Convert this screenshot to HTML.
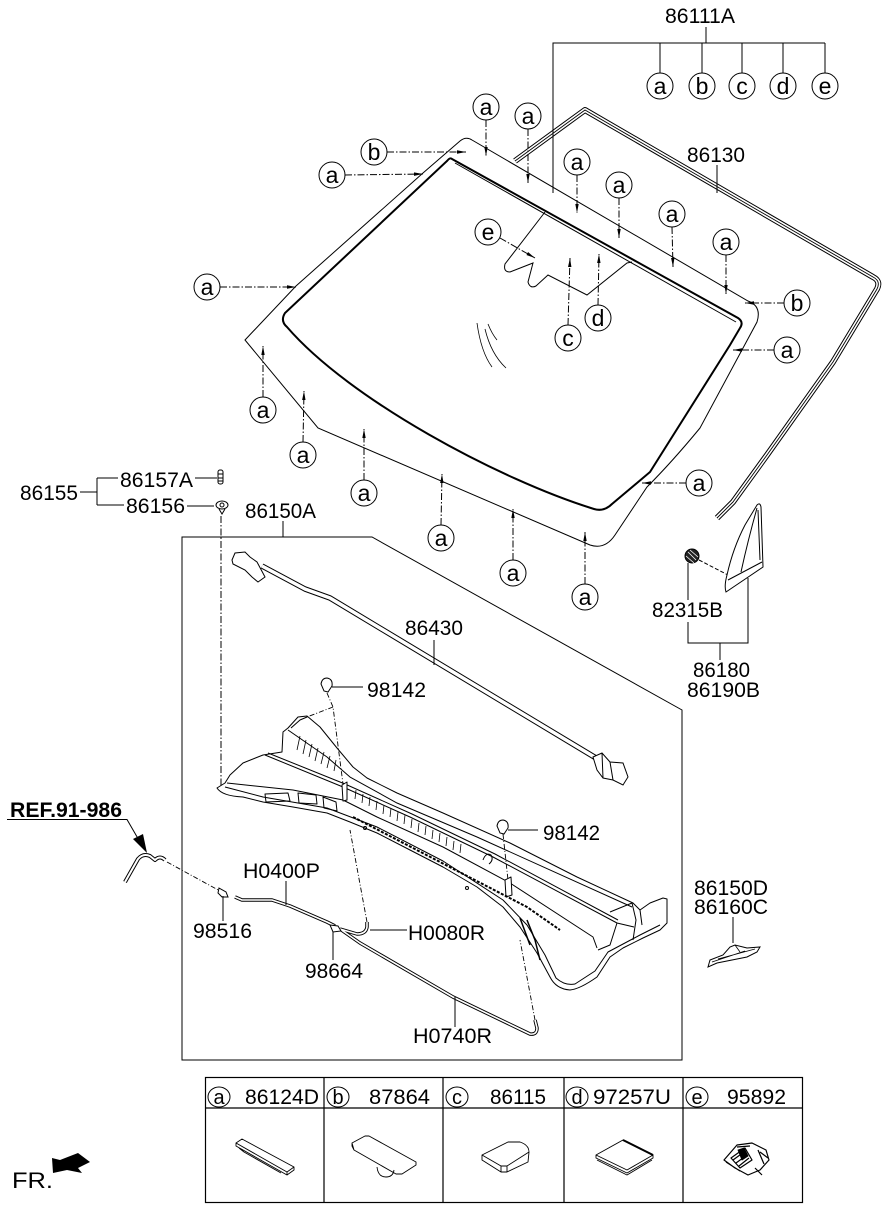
<!DOCTYPE html>
<html><head><meta charset="utf-8">
<style>
html,body{margin:0;padding:0;background:#fff;}
svg{display:block;}
text{font-family:"Liberation Sans",Arial,sans-serif;fill:#000;}
</style></head><body>
<svg width="886" height="1211" viewBox="0 0 886 1211" xmlns="http://www.w3.org/2000/svg">
<defs>
<marker id="ah" markerWidth="10" markerHeight="6" refX="9" refY="3" orient="auto" markerUnits="userSpaceOnUse">
<path d="M0,1.3 L9,3 L0,4.7 Z" fill="#000"/>
</marker>
</defs>
<rect width="886" height="1211" fill="#fff"/>

<!-- ===== 86111A group ===== -->
<g stroke="#000" stroke-width="1" fill="none">
<path d="M553,193 L553,43 L825,43 M706,27 L706,43 M660,43 L660,73 M702,43 L702,73 M742,43 L742,73 M783,43 L783,73 M825,43 L825,73"/>
</g>
<text x="665" y="23" font-size="21" textLength="70" lengthAdjust="spacingAndGlyphs">86111A</text>
<g fill="#fff" stroke="#000" stroke-width="1">
<circle cx="660" cy="86" r="13"/><circle cx="702" cy="86" r="13"/><circle cx="742" cy="86" r="13"/><circle cx="783" cy="86" r="13"/><circle cx="825" cy="86" r="13"/>
</g>
<g font-size="23" text-anchor="middle">
<text x="660" y="94">a</text><text x="702" y="94">b</text><text x="742" y="94">c</text><text x="783" y="94">d</text><text x="825" y="94">e</text>
</g>

<!-- ===== Seal 86130 ===== -->
<g fill="none" stroke-linejoin="round">
<path d="M717,518 L733,502 L767,455 L833,362 L877,289 Q881,281 873,277 L585,110 L515,161" stroke="#000" stroke-width="6"/>
<path d="M717,518 L733,502 L767,455 L833,362 L877,289 Q881,281 873,277 L585,110 L515,161" stroke="#fff" stroke-width="4"/>
<path d="M717,518 L733,502 L767,455 L833,362 L877,289 Q881,281 873,277 L585,110 L515,161" stroke="#000" stroke-width="0.9"/>
</g>
<path d="M553,193 L553,43" stroke="#000" stroke-width="1"/>
<text x="687" y="162" font-size="21" textLength="58" lengthAdjust="spacingAndGlyphs">86130</text>
<path d="M717,165 L717,193" stroke="#000" stroke-width="1"/>

<!-- ===== Windshield glass ===== -->
<path d="M245,340 L296,286 L423,173 L460,141 Q466,136 472,140 L748,301 Q762,306 757,322 L700,428 Q672,462 647,487 L615,535 Q605,550 590,545 L318,428 L245,340 Z" fill="none" stroke="#000" stroke-width="1"/>
<path d="M452,159 L738,318 Q744,322 740,328 L730,345 L650,472 L612,504 Q604,512 594,509 C500,480 350,400 287,327 Q280,321 285,313 L447,161 Q450,157 452,159 Z" fill="none" stroke="#000" stroke-width="2"/>
<path d="M455,163 L736,322" fill="none" stroke="#000" stroke-width="1"/>
<!-- sensor cutout -->
<path d="M545,212 L505,264 Q503,272 510,272 L533,263 L528,282 Q530,289 536,286 L548,275 L587,295 L627,263 L632,262" fill="none" stroke="#000" stroke-width="1"/>
<!-- wiper marks -->
<path d="M477,323 Q481,352 492,367 M485,329 Q491,354 506,368 M488,324 Q492,334 497,340" fill="none" stroke="#000" stroke-width="0.8"/>

<!-- ===== callouts on glass ===== -->
<g stroke="#000" stroke-width="1" fill="none" stroke-dasharray="7,2,1.5,2" marker-end="url(#ah)">
<line x1="486" y1="120" x2="486" y2="156"/>
<line x1="528" y1="129" x2="528" y2="183"/>
<line x1="387" y1="152" x2="466" y2="152"/>
<line x1="345" y1="175" x2="423" y2="174"/>
<line x1="577" y1="175" x2="577" y2="213"/>
<line x1="619" y1="198" x2="619" y2="238"/>
<line x1="672" y1="227" x2="673" y2="267"/>
<line x1="726" y1="255" x2="726" y2="294"/>
<line x1="784" y1="303" x2="745" y2="303"/>
<line x1="220" y1="287" x2="296" y2="287"/>
<line x1="500" y1="238" x2="535" y2="258"/>
<line x1="568" y1="325" x2="570" y2="258"/>
<line x1="598" y1="305" x2="599" y2="254"/>
<line x1="774" y1="350" x2="733" y2="350"/>
<line x1="263" y1="397" x2="263" y2="346"/>
<line x1="303" y1="442" x2="304" y2="391"/>
<line x1="364" y1="480" x2="364" y2="429"/>
<line x1="441" y1="525" x2="442" y2="474"/>
<line x1="513" y1="560" x2="513" y2="509"/>
<line x1="585" y1="584" x2="585" y2="532"/>
<line x1="686" y1="483" x2="642" y2="483"/>
</g>
<g fill="#fff" stroke="#000" stroke-width="1">
<circle cx="486" cy="107" r="13"/><circle cx="528" cy="116" r="13"/><circle cx="374" cy="152" r="13"/><circle cx="332" cy="175" r="13"/>
<circle cx="577" cy="162" r="13"/><circle cx="619" cy="185" r="13"/><circle cx="672" cy="214" r="13"/><circle cx="726" cy="242" r="13"/>
<circle cx="797" cy="303" r="13"/><circle cx="207" cy="287" r="13"/><circle cx="488" cy="232" r="13"/><circle cx="568" cy="338" r="13"/>
<circle cx="598" cy="318" r="13"/><circle cx="787" cy="350" r="13"/><circle cx="263" cy="410" r="13"/><circle cx="303" cy="455" r="13"/>
<circle cx="364" cy="493" r="13"/><circle cx="441" cy="538" r="13"/><circle cx="513" cy="573" r="13"/><circle cx="585" cy="597" r="13"/>
<circle cx="699" cy="483" r="13"/>
</g>
<g font-size="23" text-anchor="middle">
<text x="486" y="115">a</text><text x="528" y="124">a</text><text x="374" y="160">b</text><text x="332" y="183">a</text>
<text x="577" y="170">a</text><text x="619" y="193">a</text><text x="672" y="222">a</text><text x="726" y="250">a</text>
<text x="797" y="311">b</text><text x="207" y="295">a</text><text x="488" y="240">e</text><text x="568" y="346">c</text>
<text x="598" y="326">d</text><text x="787" y="358">a</text><text x="263" y="418">a</text><text x="303" y="463">a</text>
<text x="364" y="501">a</text><text x="441" y="546">a</text><text x="513" y="581">a</text><text x="585" y="605">a</text>
<text x="699" y="491">a</text>
</g>

<!-- ===== 86155 group ===== -->
<text x="20" y="500" font-size="21" textLength="58" lengthAdjust="spacingAndGlyphs">86155</text>
<text x="120" y="487" font-size="21" textLength="73" lengthAdjust="spacingAndGlyphs">86157A</text>
<text x="126" y="513" font-size="21" textLength="59" lengthAdjust="spacingAndGlyphs">86156</text>
<g stroke="#000" stroke-width="1" fill="none">
<path d="M80,492 L97,492 M97,478 L97,505 M97,478 L118,478 M97,505 L124,505 M195,478 L217,478 M187,506 L214,506"/>
<rect x="218" y="470" width="5" height="14" rx="2"/>
<path d="M218,474 L223,474 M218,478 L223,478 M218,481 L223,481"/>
<ellipse cx="222" cy="505" rx="6" ry="4" fill="#fff"/>
<circle cx="222" cy="505" r="2"/>
<path d="M219,509 L222,514 L225,509"/>
</g>
<path d="M221,516 L221,790" stroke="#000" stroke-width="1" stroke-dasharray="7,2,1.5,2"/>
<text x="245" y="518" font-size="21" textLength="71" lengthAdjust="spacingAndGlyphs">86150A</text>
<path d="M283,521 L283,537 M182,537 L372,537 L682,710 L682,1060 L182,1060 Z" stroke="#000" stroke-width="1" fill="none"/>

<!-- ===== 86180 group ===== -->
<g stroke="#000" stroke-width="1" fill="none">
<circle cx="692" cy="556" r="7" fill="#222"/>
<path d="M688,552 L696,560 M686,556 L694,563 M690,550 L698,557" stroke="#fff" stroke-width="0.8"/>
<path d="M699,560 L728,575" stroke-dasharray="4,2"/>
<path d="M757,505 Q760,502 761,507 L763,567 L726,592 Q724,586 727,575 Q733,548 745,525 Z" fill="#fff"/>
<path d="M757,508 Q748,540 741,572 M728,580 L762,562 M758,510 L760,560"/>
<path d="M688,563 L688,600 M688,622 L688,643 L748,643 L748,578 M720,643 L720,660"/>
</g>
<text x="652" y="617" font-size="21" textLength="71" lengthAdjust="spacingAndGlyphs">82315B</text>
<text x="693" y="677" font-size="21" textLength="57" lengthAdjust="spacingAndGlyphs">86180</text>
<text x="687" y="697" font-size="21" textLength="73" lengthAdjust="spacingAndGlyphs">86190B</text>

<!-- ===== Molding 86430 ===== -->
<g fill="none" stroke-linejoin="round">
<path d="M262,566 L305,589 L330,598 L596,758" stroke="#000" stroke-width="5.5"/>
<path d="M262,566 L305,589 L330,598 L596,758" stroke="#fff" stroke-width="3.5"/>
</g>
<g stroke="#000" stroke-width="1" fill="#fff">
<path d="M232,560 L235,553 L245,552 L250,557 L257,562 L265,577 L258,582 L252,577 L245,570 L233,564 Z"/>
<path d="M593,757 L602,753 L610,762 L623,763 L628,777 L623,785 L613,780 L603,778 L597,770 Z"/>
<path d="M602,753 L603,778 M610,762 L613,780" fill="none"/>
</g>
<text x="405" y="635" font-size="21" textLength="58" lengthAdjust="spacingAndGlyphs">86430</text>
<path d="M434,640 L434,665" stroke="#000" stroke-width="1"/>

<!-- ===== 98142 ===== -->
<g stroke="#000" stroke-width="1" fill="#fff">
<path d="M321,684 Q322,678 327,678 Q333,679 332,686 L328,692 L324,691 Z"/>
<path d="M497,826 Q498,820 503,820 Q509,821 508,828 L504,834 L500,833 Z"/>
</g>
<path d="M332,687 L363,687 M508,830 L538,830" stroke="#000" stroke-width="1"/>
<text x="367" y="697" font-size="21" textLength="59" lengthAdjust="spacingAndGlyphs">98142</text>
<text x="543" y="840" font-size="21" textLength="57" lengthAdjust="spacingAndGlyphs">98142</text>

<!-- ===== Cowl panel ===== -->
<g stroke="#000" stroke-width="1" fill="none" stroke-linejoin="round">
<path fill="#fff" d="M217,788 Q222,796 243,797 L263,802 L293,807 L327,813 L350,822 L377,833 L410,850 L443,867 L477,887 L503,907 L520,927 L537,953 L550,977 Q556,989 570,990 Q580,989 597,977 L610,957 L623,948 L643,938 L660,930 L667,923 L667,899 L663,898 L650,903 L640,910 L633,903 L577,877 L510,843 L443,813 L397,793 L367,778 L353,767 L337,748 L320,727 L307,716 L298,717 L288,728 L283,732 L282,752 L263,755 L243,763 L230,775 L225,783 Z"/>
<path d="M288,730 L327,757 L350,777 L397,803 L477,837 L632,907"/>
<path d="M291,728 L300,720 L307,717"/>
<path d="M265,755 L343,787 L410,817 L493,857 L617,923 L634,927"/>
<path d="M268,753 L345,784 L412,814 L495,854 L618,920"/>
<path d="M227,783 L293,790 L343,800 L377,817 L443,847 L510,883 L593,937 L597,948"/>
<path d="M225,787 L263,797 L327,808 L377,827 L443,861 L503,900 L527,925 L545,955 L556,978 Q565,986 575,984 L595,971 L608,952 L640,935 L660,925"/>
<path d="M632,903 L636,920 L633,940 M610,912 L632,903 M617,923 L610,945 L598,950 M640,910 L642,925"/>
<path d="M265,794 L288,793 L290,801 L266,802 Z M298,793 L316,795 L317,804 L299,803 Z M323,797 L336,802 L337,811 L324,808 Z"/>
<path d="M342,785 L347,782 L347,800 L343,801 Z M505,880 L511,877 L512,895 L506,897 Z" fill="#fff"/>
<path d="M300,736 l-3,14 M306,740 l-3,14 M312,744 l-3,13 M318,748 l-3,13 M324,752 l-3,12 M330,756 l-3,12 M336,760 l-2,11" stroke-width="0.8"/>
<path d="M356,790 l-1,9 M363,794 l-1,9 M370,797 l-1,9 M377,801 l-1,9 M384,805 l-1,9 M391,808 l-1,9 M398,812 l-1,9 M405,815 l-1,9 M412,819 l-1,9 M419,823 l-1,9 M426,826 l-1,9 M433,830 l-1,9 M440,833 l-1,9 M447,837 l-1,9 M454,841 l-1,9 M461,844 l-1,9" stroke-width="0.8"/>
<path d="M353,817 L527,907 L560,930" stroke-width="2" stroke-dasharray="3,1.5"/>
<circle cx="365" cy="828" r="1.5"/><circle cx="467" cy="888" r="1.5"/>
<path d="M483,860 Q486,852 491,855 Q494,860 489,864"/>
<path d="M527,920 L535,940 L540,960 M520,918 L530,945" stroke-width="1.5"/>
</g>
<!-- 98142 dashed -->
<g stroke="#000" stroke-width="0.9" fill="none" stroke-dasharray="5,2,1,2">
<path d="M327,693 L333,707 L343,784"/>
<path d="M333,707 L307,717"/>
<path d="M503,834 L508,880"/>
</g>

<!-- ===== REF ===== -->
<text x="10" y="817" font-size="21" font-weight="bold" textLength="112" lengthAdjust="spacingAndGlyphs">REF.91-986</text>
<path d="M7,819.5 L127,819.5 L140,842" stroke="#000" stroke-width="1" fill="none"/>
<path d="M147,853 L133,839 L143,834 Z" fill="#000"/>
<g fill="none" stroke-linejoin="round">
<path d="M125,882 L138,859 Q143,853 150,856 L155,860 Q160,855 165,860" stroke="#000" stroke-width="4"/>
<path d="M125,882 L138,859 Q143,853 150,856 L155,860 Q160,855 165,860" stroke="#fff" stroke-width="2"/>
</g>
<path d="M167,862 L220,891" stroke="#000" stroke-width="0.9" stroke-dasharray="5,2,1,2"/>

<!-- ===== hoses ===== -->
<g fill="none" stroke-linejoin="round">
<path d="M235,897 L242,900 L272,900 L290,906 L327,922 L335,926 M340,929 L357,934 Q366,934 367,927 L367,922 M340,929 L360,943 L453,997 L530,1034 Q537,1035 537,1028 L535,1020" stroke="#000" stroke-width="3.5"/>
<path d="M235,897 L242,900 L272,900 L290,906 L327,922 L335,926 M340,929 L357,934 Q366,934 367,927 L367,922 M340,929 L360,943 L453,997 L530,1034 Q537,1035 537,1028 L535,1020" stroke="#fff" stroke-width="1.6"/>
</g>
<g stroke="#000" stroke-width="1" fill="#fff">
<path d="M219,888 L226,892 L228,897 L222,897 L218,893 Z"/>
<path d="M330,925 L338,926 L341,931 L333,932 Z"/>
</g>
<g stroke="#000" stroke-width="0.9" fill="none" stroke-dasharray="5,2,1,2">
<path d="M367,922 L350,830"/>
<path d="M535,1020 L520,940"/>
</g>
<g stroke="#000" stroke-width="1">
<path d="M286,881 L286,905 M370,930 L407,930 M333,932 L333,960 M223,896 L223,921 M455,997 L455,1027"/>
</g>
<text x="243" y="878" font-size="21" textLength="77" lengthAdjust="spacingAndGlyphs">H0400P</text>
<text x="408" y="940" font-size="21" textLength="77" lengthAdjust="spacingAndGlyphs">H0080R</text>
<text x="193" y="938" font-size="21" textLength="59" lengthAdjust="spacingAndGlyphs">98516</text>
<text x="305" y="978" font-size="21" textLength="58" lengthAdjust="spacingAndGlyphs">98664</text>
<text x="413" y="1043" font-size="21" textLength="79" lengthAdjust="spacingAndGlyphs">H0740R</text>

<!-- ===== 86150D / 86160C ===== -->
<text x="694" y="895" font-size="21" textLength="74" lengthAdjust="spacingAndGlyphs">86150D</text>
<text x="694" y="914" font-size="21" textLength="74" lengthAdjust="spacingAndGlyphs">86160C</text>
<g stroke="#000" stroke-width="1" fill="none">
<path d="M733,917 L733,943"/>
<path d="M708,967 L710,960 L723,955 L730,947 L735,945 L747,948 L760,947 L757,952 L747,957 L717,963 Z" fill="#fff"/>
<path d="M712,962 L745,951 M718,959 L755,949 M735,945 L740,952" stroke-width="0.8"/>
</g>

<!-- ===== Legend table ===== -->
<g stroke="#000" stroke-width="1.2" fill="none">
<rect x="205.5" y="1077.5" width="597" height="125"/>
<path d="M205,1108 L802,1108 M324,1077 L324,1202 M443,1077 L443,1202 M564,1077 L564,1202 M683,1077 L683,1202"/>
</g>
<g fill="#fff" stroke="#000" stroke-width="1">
<ellipse cx="219" cy="1097" rx="11" ry="10"/>
<ellipse cx="338" cy="1097" rx="11" ry="10"/>
<ellipse cx="457" cy="1097" rx="11" ry="10"/>
<ellipse cx="577" cy="1097" rx="11" ry="10"/>
<ellipse cx="697" cy="1097" rx="11" ry="10"/>
</g>
<g font-size="20" text-anchor="middle">
<text x="219" y="1104">a</text><text x="338" y="1104">b</text><text x="457" y="1104">c</text><text x="577" y="1104">d</text><text x="697" y="1104">e</text>
</g>
<text x="245" y="1104" font-size="21" textLength="74" lengthAdjust="spacingAndGlyphs">86124D</text>
<text x="369" y="1104" font-size="21" textLength="61" lengthAdjust="spacingAndGlyphs">87864</text>
<text x="490" y="1104" font-size="21" textLength="56" lengthAdjust="spacingAndGlyphs">86115</text>
<text x="593" y="1104" font-size="21" textLength="78" lengthAdjust="spacingAndGlyphs">97257U</text>
<text x="727" y="1104" font-size="21" textLength="59" lengthAdjust="spacingAndGlyphs">95892</text>

<g stroke="#000" stroke-width="0.9" fill="none" stroke-linejoin="round">
<!-- a -->
<path d="M236,1143 L242,1139 L294,1167 L287,1172 Z M236,1143 L236,1146 L287,1175 L287,1172 M287,1175 L294,1170 L294,1167 M239,1148 L244,1152 L281,1173"/>
<!-- b -->
<path d="M352,1143 L365,1136 L369,1136 L416,1162 L416,1165 L402,1174 L396,1174 L354,1150 Z M352,1143 L352,1146 L354,1150"/>
<path d="M377,1167 Q378,1177 386,1177 Q393,1177 394,1170"/>
<!-- c -->
<path d="M482,1155 L508,1142 L520,1142 Q529,1145 529,1152 L528,1162 L507,1172 L501,1172 L482,1160 Z M482,1155 L501,1166 L507,1166 L529,1152 M501,1166 L501,1172 M507,1166 L507,1172"/>
<!-- d -->
<path d="M596,1155 L623,1140 L653,1155 L627,1170 Z M596,1155 L596,1158 L627,1173 L653,1158 L653,1155 M597,1160 L627,1175 L652,1160"/>
<path d="M623,1140 L653,1155" stroke-width="2"/>
<!-- e -->
<path d="M724,1160 L737,1145 L752,1143 L766,1150 L769,1160 L760,1170 L748,1175 L735,1168 Z M731,1158 L745,1148 L752,1160 L740,1168 Z M733,1160 L744,1152 M736,1163 L747,1155 M739,1166 L749,1158 M760,1152 L768,1158 M755,1168 L762,1175 M726,1162 L740,1171 M737,1147 L750,1146 M758,1150 L764,1164" stroke-width="1.2"/>
<path d="M738,1150 L744,1148 L748,1156 L742,1160 Z" fill="#000"/>
</g>

<!-- ===== FR ===== -->
<text x="12" y="1188" font-size="22" textLength="41" lengthAdjust="spacingAndGlyphs">FR.</text>
<path d="M52,1158 L60,1160 L78,1153 L90,1162 L78,1168 L82,1173 L67,1170 L53,1173 Z" fill="#000"/>
</svg>
</body></html>
